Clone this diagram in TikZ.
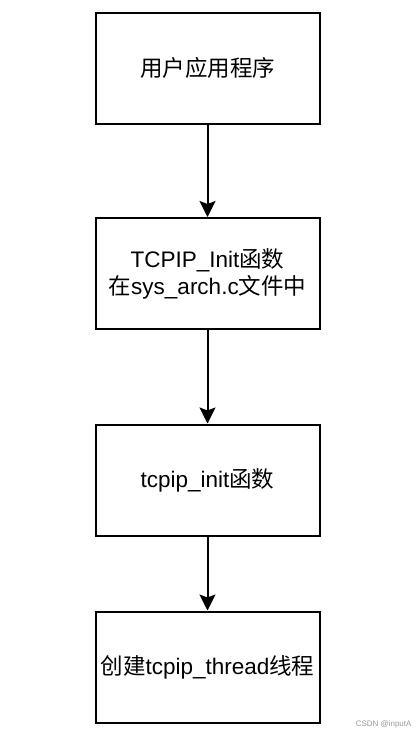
\documentclass[tikz,border=0pt]{standalone}
\usepackage{fontspec}
\setmainfont{Liberation Sans}
\newfontfamily\cjk{Noto Sans CJK SC}
\usetikzlibrary{arrows.meta}

\tikzset{
  stepbox/.style={draw=black, line width=2pt, fill=white, minimum width=224pt,
    minimum height=111pt, align=center, font=\fontsize{22.5}{27}\selectfont},
  flow/.style={line width=2pt, -{Stealth[length=16pt,width=16pt,inset=3pt]}}
}

\begin{document}
\begin{tikzpicture}[x=1pt,y=-1pt]
		\useasboundingbox (0,0) rectangle (416,736);
		\node[stepbox] (app) at (207.5,68) {{\cjk 用户应用程序}};
		\node[stepbox] (TCPIPInit) at (207.5,273.5) {TCPIP\_Init{\cjk 函数}\\{\cjk 在}sys\_arch.c{\cjk 文件中}};
		\node[stepbox] (tcpipinit) at (207.5,480) {tcpip\_init{\cjk 函数}};
		\node[stepbox] (thread) at (207.5,667) {{\cjk 创建}tcpip\_thread{\cjk 线程}};
		\draw[flow] (app) -- (TCPIPInit);
		\draw[flow] (TCPIPInit) -- (tcpipinit);
		\draw[flow] (tcpipinit) -- (thread);
		\node[text=black!40, font=\fontsize{8}{9}\selectfont, anchor=east] (mark) at (415,724) {CSDN @inputA};
	\end{tikzpicture}
\end{document}
